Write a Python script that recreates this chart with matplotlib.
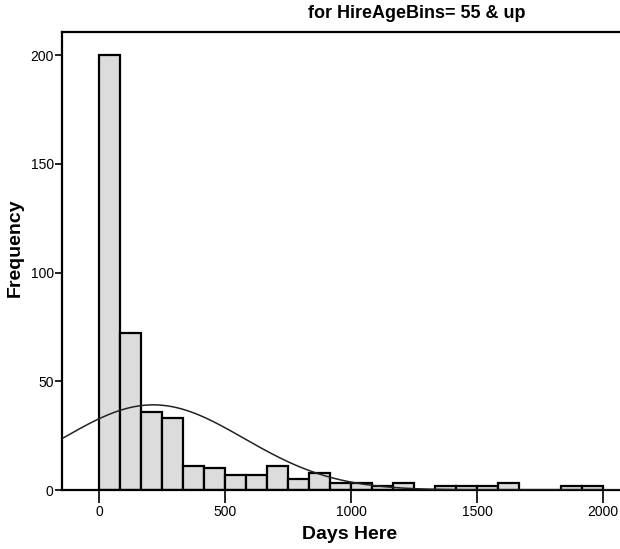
import numpy as np
import matplotlib.pyplot as plt
import matplotlib

matplotlib.rcParams['font.family'] = ['Liberation Sans', 'DejaVu Sans']

# Histogram of days here, bins of 1/6 of 500 days
bin_width = 500 / 6
bin_counts = [200, 72, 36, 33, 11, 10, 7, 7, 11, 5, 8, 3,
              3, 2, 3, 0, 2, 2, 2, 3, 0, 0, 2, 2]
bin_starts = [i * bin_width for i in range(len(bin_counts))]

# Normal curve overlay parameters
mean_days = 215
sd_days = 360

x_ticks = [0, 500, 1000, 1500, 2000]
y_ticks = [0, 50, 100, 150, 200]

fig = plt.figure(figsize=(6.2, 5.49), dpi=100)
ax = fig.add_axes([62 / 620, 1 - 490 / 549, 1 - 62 / 620, (490 - 32) / 549])

ax.bar(bin_starts, bin_counts, width=bin_width, align='edge',
       facecolor='#dcdcdc', edgecolor='black', linewidth=1.6, zorder=2)

n_total = sum(bin_counts)
xs = np.linspace(-150, 2100, 600)
curve = n_total * bin_width / (sd_days * np.sqrt(2 * np.pi)) * \
    np.exp(-0.5 * ((xs - mean_days) / sd_days) ** 2)
ax.plot(xs, curve, color='#222222', linewidth=1.1, zorder=3)

ax.set_xlim(-147, 2067)
ax.set_ylim(0, 210.6)
ax.set_xticks(x_ticks)
ax.set_yticks(y_ticks)
ax.tick_params(axis='x', direction='out', length=9, width=1.2, labelsize=10, pad=2)
ax.tick_params(axis='y', direction='out', length=5, width=1.2, labelsize=10, pad=1)

ax.spines['right'].set_visible(False)
for side in ['left', 'top', 'bottom']:
    ax.spines[side].set_linewidth(1.6)

ax.set_xlabel('Days Here', fontsize=14, fontweight='bold')
ax.xaxis.set_label_coords((350 - 62) / 558, -0.078)
ax.set_ylabel('Frequency', fontsize=14, fontweight='bold')
ax.yaxis.set_label_coords(-0.068, 0.53)

fig.text(417 / 620, 1 - 13 / 549, 'for HireAgeBins= 55 & up',
         ha='center', va='center', fontsize=13, fontweight='bold')

fig.savefig('out.png', dpi=100)
